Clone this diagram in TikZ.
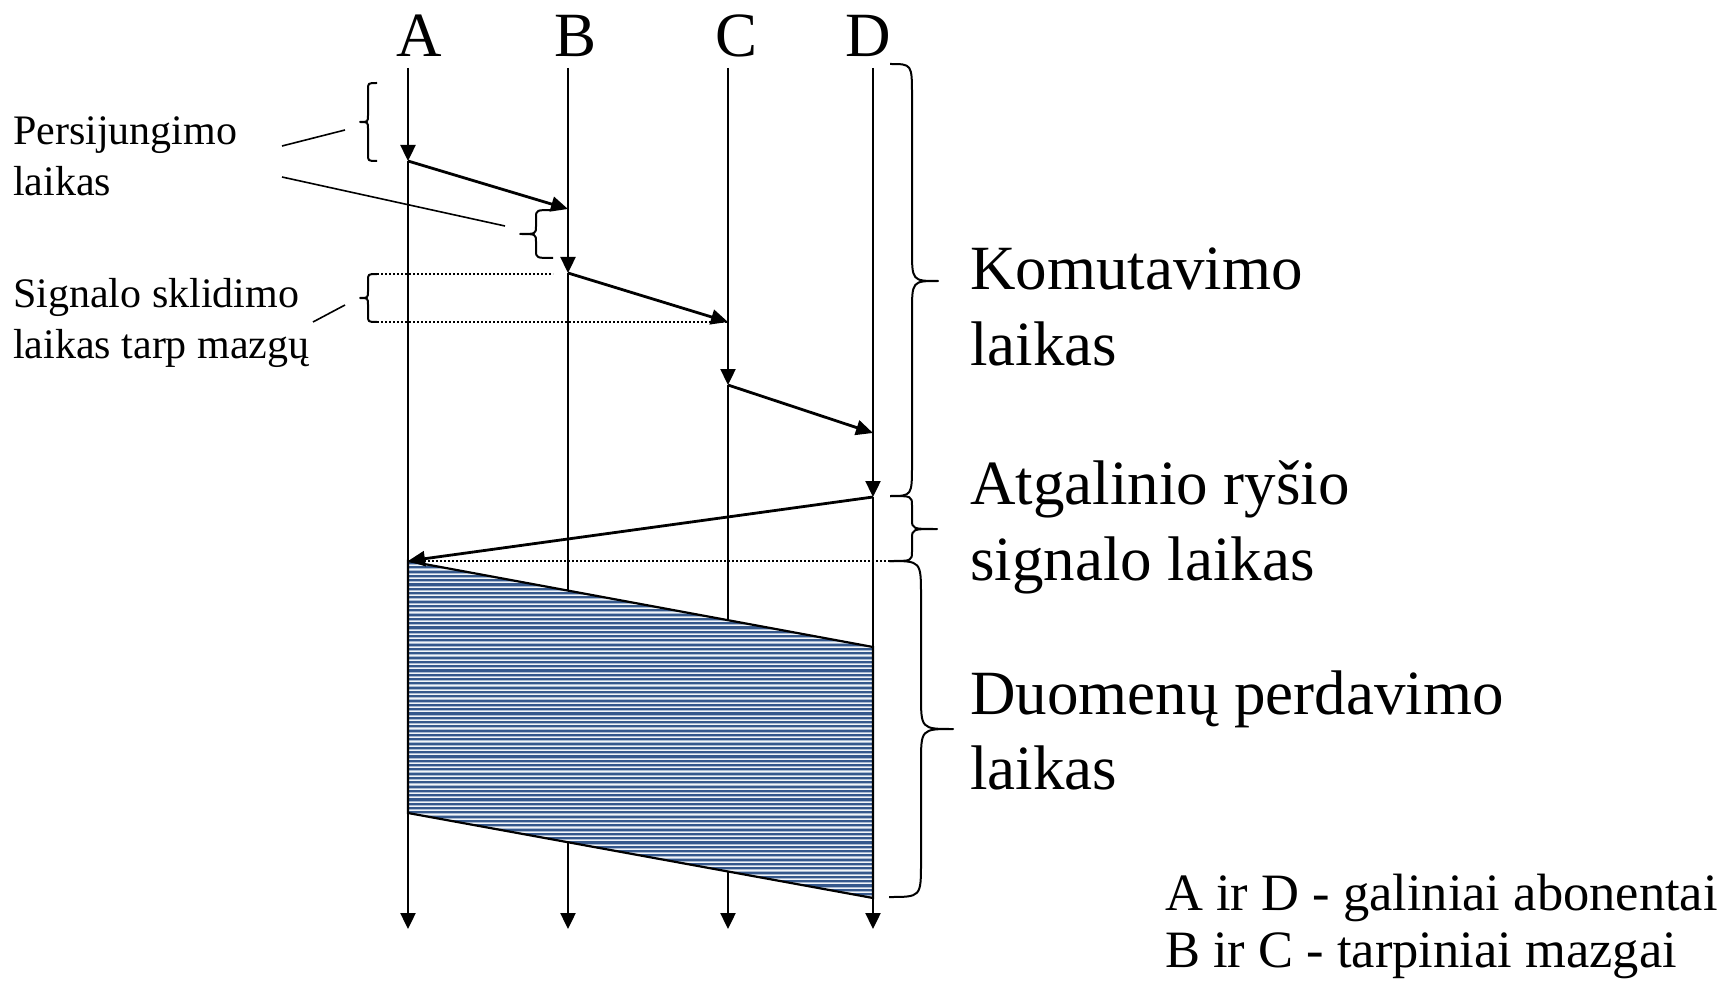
\documentclass[tikz,border=0pt]{standalone}
\usepackage{fontspec}
\setmainfont{Liberation Serif}
\usetikzlibrary{arrows.meta}
\definecolor{stripeD}{HTML}{35588C}
\definecolor{stripeL}{HTML}{A9BAD2}
\newcommand\wordbrace[7]{% x0 x1 x2 ytop ymid ybot r
  \draw[bracepath] (#1,#4) .. controls (#2,#4) .. (#2,#4+#7) -- (#2,#5-#7)
    .. controls (#2,#5) .. (#3,#5) .. controls (#2,#5) .. (#2,#5+#7)
    -- (#2,#6-#7) .. controls (#2,#6) .. (#1,#6);}
\tikzset{
  timeline/.style={line width=2.4pt, -{Triangle[length=16pt,width=15pt]}},
  msg/.style={line width=2.8pt, -{Triangle[length=17pt,width=15pt]}},
  pointer/.style={line width=1.6pt},
  bracepath/.style={line width=2pt, line join=round},
  dots/.style={line width=1.8pt, dash pattern=on 2pt off 2pt},
  edge/.style={line width=2.2pt, line join=miter},
  bigtext/.style={inner sep=0pt, anchor=base west, font=\fontsize{63}{75}\selectfont},
  smalltext/.style={inner sep=0pt, anchor=base west, font=\fontsize{42}{50}\selectfont},
  midtext/.style={inner sep=0pt, anchor=base west, font=\fontsize{52.5}{60}\selectfont},
  letter/.style={inner sep=0pt, anchor=base, font=\fontsize{63}{75}\selectfont}
}
\begin{document}
\begin{tikzpicture}[x=1pt, y=-1pt]
\path[use as bounding box] (0,0) rectangle (1727,984);

% headers
\node[letter] (lA) at (419,57) {A};
\node[letter] (lB) at (576,57) {B};
\node[letter] (lC) at (737,57) {C};
\node[letter] (lD) at (868,57) {D};

% coordinates
\coordinate (At) at (408,68);  \coordinate (Ab) at (408,929);
\coordinate (Bt) at (568,68);  \coordinate (Bb) at (568,929);
\coordinate (Ct) at (728,68);  \coordinate (Cb) at (728,929);
\coordinate (Dt) at (873,68);  \coordinate (Db) at (873,929);
\coordinate (A1) at (408,161);
\coordinate (B0) at (568,209); \coordinate (B1) at (568,273);
\coordinate (C0) at (728,322); \coordinate (C1) at (728,385);
\coordinate (D0) at (873,433); \coordinate (D1) at (873,497);
\coordinate (A2) at (408,561);
\coordinate (D2) at (873,647); \coordinate (D3) at (873,898);
\coordinate (A3) at (408,813);

% time lines
\draw[timeline] (At) -- (A1);  \draw[timeline] (A1) -- (Ab);
\draw[timeline] (Bt) -- (B1);  \draw[timeline] (B1) -- (Bb);
\draw[timeline] (Ct) -- (C1);  \draw[timeline] (C1) -- (Cb);
\draw[timeline] (Dt) -- (D1);  \draw[timeline] (D1) -- (Db);

% data transfer band
\begin{scope}
  \clip (A2) -- (D2) -- (D3) -- (A3) -- cycle;
  \fill[stripeL] (400,550) rectangle (880,905);
  \foreach \k in {0,...,83}{
    \draw[stripeD, line width=2.1pt] (400,{563+\k*4.3}) -- (880,{563+\k*4.3});
    \draw[white!85!stripeL, line width=0.7pt] (400,{565.4+\k*4.3}) -- (880,{565.4+\k*4.3});
  }
\end{scope}
\draw[edge] (A2) -- (D2) -- (D3) -- (A3) -- cycle;

% messages
\draw[msg] (A1) -- (B0);
\draw[msg] (B1) -- (C0);
\draw[msg] (C1) -- (D0);
\draw[msg] (D1) -- (A2);

% dotted guides
\coordinate (g1s) at (377,274); \coordinate (g1e) at (553,274);
\coordinate (g2s) at (377,322);
\coordinate (g3e) at (890,561);
\draw[dots] (g1s) -- (g1e);
\draw[dots] (g2s) -- (C0);
\draw[dots] (A2) -- (g3e);

% braces
\wordbrace{377}{368}{360}{83}{122}{161}{7}
\wordbrace{553}{536}{520}{210}{234}{258}{8}
\wordbrace{377}{368}{360}{274}{298}{322}{7}
\wordbrace{890}{912}{938}{64}{281}{496}{32}
\wordbrace{890}{912}{937}{496}{529}{561}{10}
\wordbrace{889}{921}{953}{561}{729}{897}{35}

% left labels
\node[smalltext] (tP1) at (13,145) {Persijungimo};
\node[smalltext] (tP2) at (13,196) {laikas};
\node[smalltext] (tS1) at (13,308) {Signalo sklidimo};
\node[smalltext] (tS2) at (13,359) {laikas tarp mazgų};
\coordinate (p1a) at (282,146); \coordinate (p1b) at (345,130);
\coordinate (p2a) at (282,177); \coordinate (p2b) at (505,226);
\coordinate (p3a) at (313,322); \coordinate (p3b) at (345,305);
\draw[pointer] (p1a) -- (p1b);
\draw[pointer] (p2a) -- (p2b);
\draw[pointer] (p3a) -- (p3b);

% right labels
\node[bigtext] (tK1) at (970,290) {Komutavimo};
\node[bigtext] (tK2) at (970,366) {laikas};
\node[bigtext] (tR1) at (970,504) {Atgalinio ryšio};
\node[bigtext] (tR2) at (970,580) {signalo laikas};
\node[bigtext] (tM1) at (970,714) {Duomenų perdavimo};
\node[bigtext] (tM2) at (970,789) {laikas};

\node[midtext] (tN1) at (1165,910) {A ir D - galiniai abonentai};
\node[midtext] (tN2) at (1165,967) {B ir C - tarpiniai mazgai};
\end{tikzpicture}
\end{document}
